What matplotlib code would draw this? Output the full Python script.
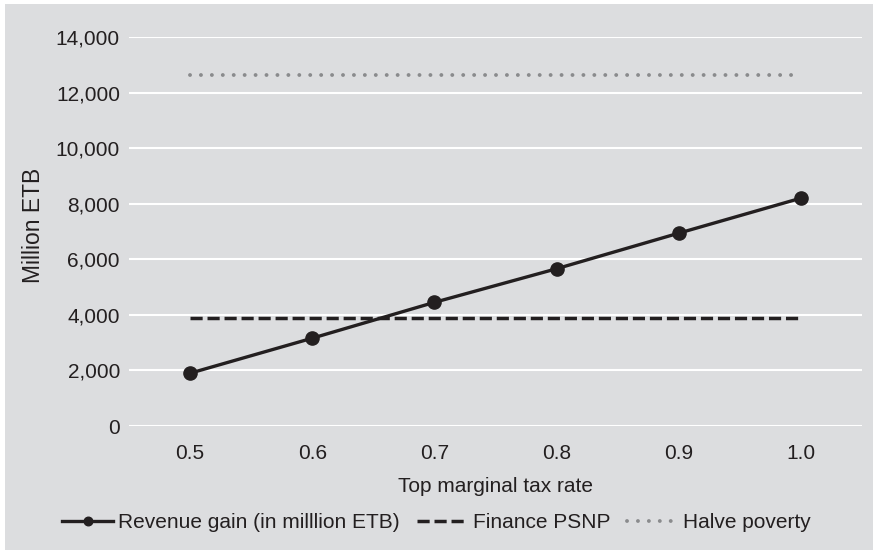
import matplotlib
matplotlib.use("Agg")
import matplotlib.pyplot as plt
from matplotlib.ticker import FuncFormatter
from matplotlib.patches import Rectangle

categories = ["0.5", "0.6", "0.7", "0.8", "0.9", "1.0"]
revenue_gain = [1900, 3160, 4450, 5660, 6940, 8200]
finance_psnp = [3900, 3900, 3900, 3900, 3900, 3900]
halve_poverty = [12650, 12650, 12650, 12650, 12650, 12650]
yticks = [0, 2000, 4000, 6000, 8000, 10000, 12000, 14000]

plt.rcParams['font.family'] = ['Liberation Sans', 'DejaVu Sans']
bg = '#dcdddf'
txt = '#231f20'
fs = 15

fig = plt.figure(figsize=(8.73, 5.5), dpi=100)
fig.patch.set_facecolor('white')
fig.patches.append(Rectangle((5/873, 0), 1, 1 - 4/550, transform=fig.transFigure,
                             facecolor=bg, edgecolor='none', zorder=-10))
ax = fig.add_axes([129/873, 1 - 426/550, (862 - 129)/873, (426 - 37)/550])
ax.set_facecolor(bg)
x = list(range(len(categories)))

ax.plot(x, revenue_gain, color=txt, lw=2.4, marker='o', markersize=9.5,
        label='Revenue gain (in milllion ETB)', zorder=3)
ax.plot(x, finance_psnp, color=txt, lw=2.5, linestyle=(0, (3.5, 1.4)),
        label='Finance PSNP', zorder=2)
ax.plot(x, halve_poverty, color='#8a8b8d', lw=2.8, linestyle=(0, (0.01, 2.8)),
        dash_capstyle='round', label='Halve poverty', zorder=2)

ax.set_xlim(-0.5, len(categories) - 0.5)
ax.set_ylim(0, 14000)
ax.set_yticks(yticks)
ax.yaxis.set_major_formatter(FuncFormatter(lambda v, p: f"{int(v):,}"))
ax.set_xticks(x)
ax.set_xticklabels(categories)
ax.grid(axis='y', color='white', lw=1.5)
ax.set_axisbelow(True)
for s in ax.spines.values():
    s.set_visible(False)
ax.tick_params(axis='both', length=0, labelsize=fs, colors=txt)
ax.tick_params(axis='y', pad=6.5)
ax.tick_params(axis='x', pad=13)
ax.set_xlabel('Top marginal tax rate', fontsize=fs, color=txt, va='center')
ax.xaxis.set_label_coords(0.5, -61/389)
ax.set_ylabel('Million ETB', fontsize=16.5, color=txt, va='center')
ax.yaxis.set_label_coords(-96/733, 0.515)

leg = fig.legend(loc='center', bbox_to_anchor=(0.5, 1 - 523/550), ncol=3,
                 frameon=False, fontsize=fs, handlelength=2.45,
                 handletextpad=0.25, columnspacing=0.8, labelcolor=txt,
                 markerscale=0.65)

fig.savefig('out.png', dpi=100, facecolor=fig.get_facecolor())
